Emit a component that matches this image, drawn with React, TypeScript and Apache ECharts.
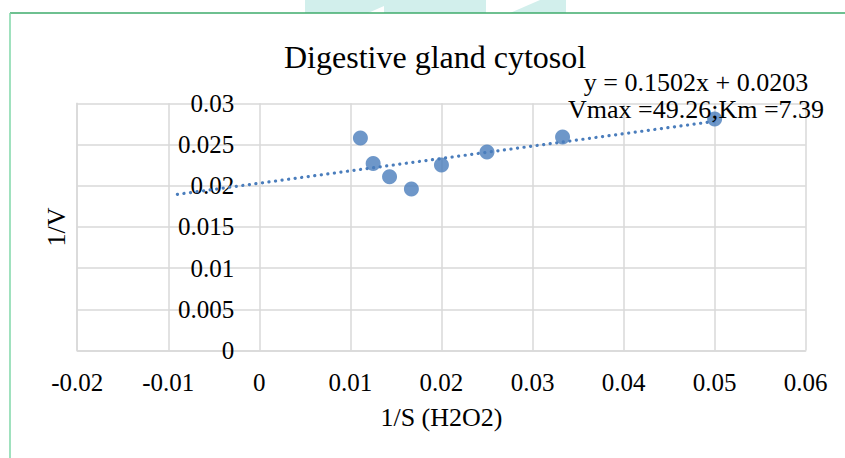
import React, { useEffect, useRef } from "react";
import * as echarts from "echarts";

const xValues = [0.0111, 0.0125, 0.0143, 0.0167, 0.02, 0.025, 0.0333, 0.05];
const yValues = [0.0258, 0.0227, 0.0211, 0.0196, 0.0225, 0.0241, 0.0259, 0.0281];
const trendX = [-0.009, 0.05];
const trendY = [0.01895, 0.02781];
const titleText = "Digestive gland cytosol";
const equationLines = ["y = 0.1502x + 0.0203", "Vmax =49.26;Km =7.39"];
const xAxisName = "1/S (H2O2)";
const yAxisName = "1/V";

const FONT = "'Liberation Serif', 'Times New Roman', serif";
const BLUE = "#4a7dbc";

export default function App() {
  const ref = useRef<HTMLDivElement>(null);
  useEffect(() => {
    if (!ref.current) return;
    const chart = echarts.init(ref.current, undefined, { renderer: "svg" });
    const points = xValues.map((x, i) => [x, yValues[i]]);
    const trend = trendX.map((x, i) => [x, trendY[i]]);
    chart.setOption({
      animation: false,
      backgroundColor: "#ffffff",
      title: {
        text: titleText,
        left: 279,
        top: 36,
        textStyle: { fontFamily: FONT, fontSize: 32, fontWeight: "normal", color: "#000" },
      },
      grid: {
        left: 77.2,
        right: 39.3,
        top: 103.3,
        bottom: 107.5,
        containLabel: false,
        outerBoundsMode: "none",
      },
      xAxis: {
        type: "value",
        min: -0.02,
        max: 0.06,
        interval: 0.01,
        name: xAxisName,
        nameLocation: "middle",
        nameGap: 54,
        nameTextStyle: { fontFamily: FONT, fontSize: 26, color: "#000" },
        axisLine: { show: true, onZero: false, lineStyle: { color: "#d9d9d9", width: 1.5 } },
        axisTick: { show: false },
        axisLabel: { fontFamily: FONT, fontSize: 25, color: "#000", margin: 19 },
        splitLine: { show: true, lineStyle: { color: "#d9d9d9", width: 1.5 } },
      },
      yAxis: {
        type: "value",
        min: 0,
        max: 0.03,
        interval: 0.005,
        name: yAxisName,
        nameLocation: "middle",
        nameGap: 6,
        nameRotate: 90,
        nameTextStyle: { fontFamily: FONT, fontSize: 26, color: "#000" },
        axisLine: { show: true, onZero: false, lineStyle: { color: "#d9d9d9", width: 1.5 } },
        axisTick: { show: false },
        axisLabel: { fontFamily: FONT, fontSize: 25, color: "#000", margin: -157, align: "right" },
        splitLine: { show: true, lineStyle: { color: "#d9d9d9", width: 1.5 } },
      },
      graphic: {
        elements: [
          {
            type: "polygon",
            silent: true,
            shape: {
              points: [[305, 0], [486, 0], [486, 13], [384, 13], [384, 6], [368, 13], [305, 13]],
            },
            style: { fill: "#d2efec" },
          },
          {
            type: "polygon",
            silent: true,
            shape: { points: [[510, 13], [540, 0], [566, 0], [566, 13]] },
            style: { fill: "#d2efec" },
          },
          {
            type: "line",
            silent: true,
            shape: { x1: 10, y1: 13, x2: 845, y2: 13 },
            style: { stroke: "#3eab6b", lineWidth: 1.5 },
          },
          {
            type: "line",
            silent: true,
            shape: { x1: 10, y1: 13, x2: 10, y2: 458 },
            style: { stroke: "#80d7a8", lineWidth: 1.5 },
          },
          {
            type: "text",
            x: 696,
            y: 82,
            z: 10,
            style: {
              text: equationLines[0],
              fontFamily: FONT,
              fontSize: 26,
              fill: "#000",
              align: "center",
              verticalAlign: "middle",
            },
          },
          {
            type: "text",
            x: 696,
            y: 109.5,
            z: 10,
            style: {
              text: equationLines[1],
              fontFamily: FONT,
              fontSize: 26,
              fill: "#000",
              align: "center",
              verticalAlign: "middle",
            },
          },
        ],
      },
      series: [
        {
          type: "line",
          data: trend,
          showSymbol: false,
          symbol: "none",
          lineStyle: { color: BLUE, width: 3.2, type: [0.1, 6.5], cap: "round" },
          z: 2,
        },
        {
          type: "scatter",
          data: points,
          symbol: "circle",
          symbolSize: 15,
          itemStyle: { color: BLUE },
          z: 3,
        },
      ],
    });
    return () => chart.dispose();
  }, []);
  return (
    <div
      ref={ref}
      style={{ position: "fixed", left: 0, top: 0, width: 845, height: 458 }}
    />
  );
}
